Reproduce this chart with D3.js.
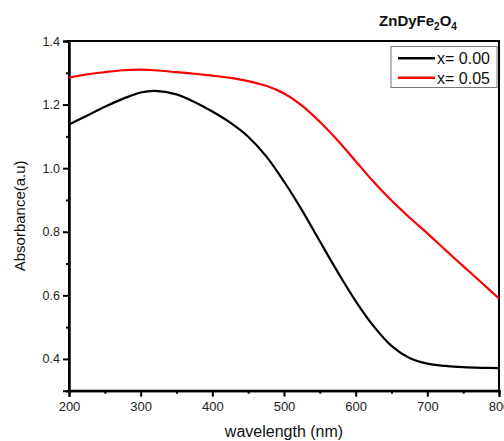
<!DOCTYPE html>
<html>
<head>
<meta charset="utf-8">
<script src="https://cdn.jsdelivr.net/npm/d3@7"></script>
<style>
  html, body { margin: 0; padding: 0; background: #fff; }
  svg { display: block; font-family: Arial, "Liberation Sans", sans-serif; }
</style>
</head>
<body>
<svg id="chart" width="504" height="441"></svg>
<script>
// ---- data ----
const wavelength = [200, 225, 250, 275, 300, 320, 350, 375, 400, 425, 450, 475, 500, 525, 550, 575, 600, 625, 650, 675, 700, 725, 750, 775, 800];
const absX000 = [1.137, 1.165, 1.193, 1.218, 1.238, 1.243, 1.232, 1.208, 1.178, 1.143, 1.099, 1.038, 0.958, 0.868, 0.770, 0.673, 0.582, 0.503, 0.441, 0.403, 0.385, 0.378, 0.374, 0.372, 0.371];
const absX005 = [1.285, 1.295, 1.302, 1.308, 1.310, 1.308, 1.302, 1.297, 1.291, 1.284, 1.274, 1.259, 1.235, 1.197, 1.146, 1.087, 1.022, 0.957, 0.898, 0.845, 0.795, 0.743, 0.692, 0.641, 0.590];
const seriesNames = ["x= 0.00", "x= 0.05"];
const seriesColors = ["#000000", "#ff0000"];
const xTicks = [200, 300, 400, 500, 600, 700, 800];
const xMinor = [250, 350, 450, 550, 650, 750];
const yTicks = [0.4, 0.6, 0.8, 1.0, 1.2, 1.4];
const yMinor = [0.5, 0.7, 0.9, 1.1, 1.3];

// ---- layout ----
const svg = d3.select("#chart");
const L = 69, R = 499, T = 41, B = 390.7;
const x = d3.scaleLinear().domain([200, 800]).range([L, R]);
const y = d3.scaleLinear().domain([0.3, 1.4]).range([B, T]);

// frame
svg.append("rect").attr("x", L).attr("y", T).attr("width", R - L).attr("height", B - T)
  .attr("fill", "none").attr("stroke", "#000").attr("stroke-width", 2);

// x axis
const gx = svg.append("g").attr("transform", `translate(0,${B})`)
  .call(d3.axisBottom(x).tickValues(xTicks).tickFormat(d3.format("d")).tickSize(6).tickPadding(5));
gx.append("g").call(d3.axisBottom(x).tickValues(xMinor).tickFormat("").tickSize(3));
// y axis
const gy = svg.append("g").attr("transform", `translate(${L},0)`)
  .call(d3.axisLeft(y).tickValues(yTicks).tickFormat(d3.format(".1f")).tickSize(6).tickPadding(3));
gy.append("g").call(d3.axisLeft(y).tickValues(yMinor).tickFormat("").tickSize(3));

svg.selectAll(".domain").attr("stroke", "#000").attr("stroke-width", 2);
svg.selectAll(".tick line").attr("stroke", "#000").attr("stroke-width", 2);
gx.selectAll(".tick text").attr("font-size", 13).attr("fill", "#222").attr("font-family", "Arial, 'Liberation Sans', sans-serif");
gy.selectAll(".tick text").attr("font-size", 12.5).attr("fill", "#222").attr("font-family", "Arial, 'Liberation Sans', sans-serif");

// axis titles
svg.append("text").attr("x", (L + R) / 2).attr("y", 437).attr("text-anchor", "middle")
  .attr("font-size", 16).attr("fill", "#111").text("wavelength (nm)");
svg.append("text").attr("transform", `translate(25,${(T + B) / 2}) rotate(-90)`).attr("text-anchor", "middle")
  .attr("font-size", 15).attr("fill", "#111").text("Absorbance(a.u)");

// title with subscripts
const title = svg.append("text").attr("x", 418).attr("y", 26).attr("text-anchor", "middle")
  .attr("font-size", 15).attr("font-weight", "bold").attr("fill", "#111");
title.append("tspan").text("ZnDyFe");
title.append("tspan").attr("font-size", 10).attr("dy", 4).text("2");
title.append("tspan").attr("dy", -4).text("O");
title.append("tspan").attr("font-size", 10).attr("dy", 4).text("4");

// lines
const series = [absX000, absX005];
const line = d3.line().x((d, i) => x(wavelength[i])).y(d => y(d)).curve(d3.curveCatmullRom.alpha(0.5));
series.forEach((s, k) => {
  svg.append("path").datum(s).attr("d", line).attr("fill", "none")
    .attr("stroke", seriesColors[k]).attr("stroke-width", 2.2);
});

// legend
const lg = svg.append("g");
lg.append("rect").attr("x", 391).attr("y", 46.5).attr("width", 106).attr("height", 41)
  .attr("fill", "#fff").attr("stroke", "#777").attr("stroke-width", 1);
seriesNames.forEach((n, k) => {
  const yy = 58.3 + k * 19.4;
  lg.append("line").attr("x1", 398).attr("x2", 435).attr("y1", yy).attr("y2", yy)
    .attr("stroke", seriesColors[k]).attr("stroke-width", 2.5);
  lg.append("text").attr("x", 437).attr("y", yy + 5.8).attr("font-size", 16).attr("fill", "#111").text(n);
});
</script>
</body>
</html>
